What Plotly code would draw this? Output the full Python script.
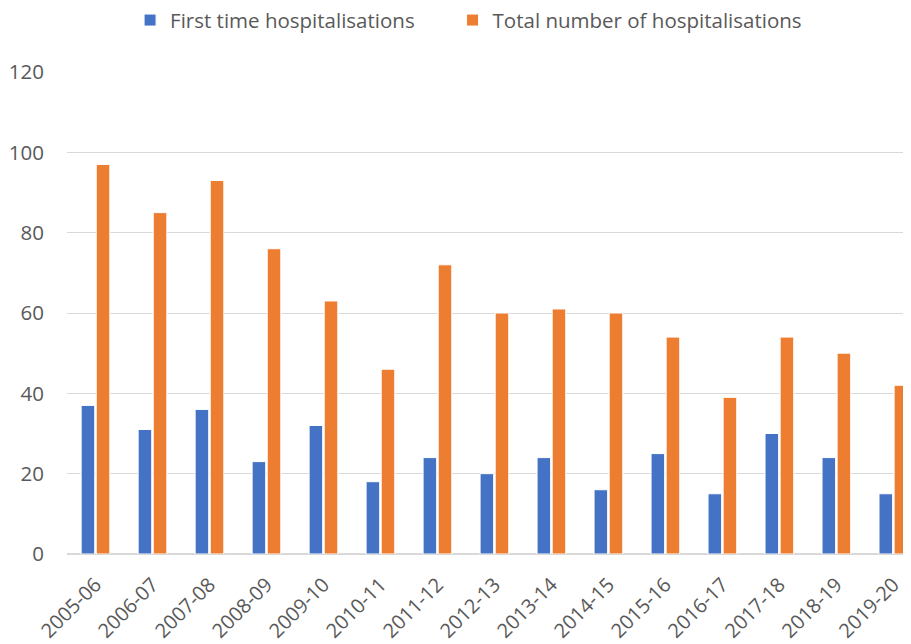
import plotly.graph_objects as go

years = ["2005-06", "2006-07", "2007-08", "2008-09", "2009-10", "2010-11", "2011-12",
         "2012-13", "2013-14", "2014-15", "2015-16", "2016-17", "2017-18", "2018-19", "2019-20"]
first_time = [37, 31, 36, 23, 32, 18, 24, 20, 24, 16, 25, 15, 30, 24, 15]
total = [97, 85, 93, 76, 63, 46, 72, 60, 61, 60, 54, 39, 54, 50, 42]

font_family = "Open Sans, Noto Sans, sans-serif"

fig = go.Figure()
fig.add_trace(go.Bar(x=years, y=first_time, name="First time hospitalisations",
                     marker=dict(color="#4472C4", line=dict(color="white", width=1)),
                     legend="legend", showlegend=True))
fig.add_trace(go.Bar(x=years, y=total, name="Total number of hospitalisations",
                     marker=dict(color="#ED7D31", line=dict(color="white", width=1)),
                     legend="legend2", showlegend=True))

leg = dict(orientation="h", xanchor="left", xref="container",
           y=0.981, yanchor="middle", yref="container",
           font=dict(size=20.5, color="#595959"), itemwidth=30)

# page body has an 8px margin, so offsets are shifted by that amount
fig.update_layout(
    width=911, height=644,
    margin=dict(l=59, r=0, t=64, b=98, autoexpand=False),
    plot_bgcolor="white", paper_bgcolor="white",
    showlegend=True,
    barmode="group", bargap=0.47, bargroupgap=0.1,
    font=dict(family=font_family, color="#595959", size=20),
    legend=dict(leg, x=0.134),
    legend2=dict(leg, x=0.488),
    xaxis=dict(type="category", range=[-0.5, 14.45], tickangle=-45, showgrid=False,
               showline=False, ticks="", tickfont=dict(size=20), ticklabelstandoff=14,
               automargin=False),
    yaxis=dict(range=[0, 120], dtick=20, gridcolor="#d9d9d9", gridwidth=1,
               zeroline=True, zerolinecolor="#d9d9d9", zerolinewidth=2,
               showline=False, ticks="", ticklabelstandoff=22, tickfont=dict(size=20.5),
               automargin=False),
)

fig.write_html("out.html")
